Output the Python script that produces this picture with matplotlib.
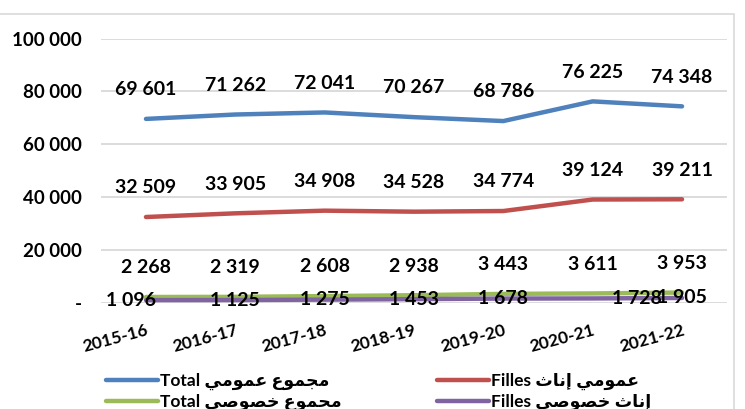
import matplotlib.pyplot as plt
from matplotlib.patches import Rectangle

plt.rcParams['font.family'] = ['Lato', 'DejaVu Sans']
plt.rcParams['font.weight'] = 'bold'

# school years
years = ["2015-16", "2016-17", "2017-18", "2018-19", "2019-20", "2020-21", "2021-22"]

# public schools (total / girls)
public_total = [69601, 71262, 72041, 70267, 68786, 76225, 74348]
public_girls = [32509, 33905, 34908, 34528, 34774, 39124, 39211]

# private schools (total / girls)
private_total = [2268, 2319, 2608, 2938, 3443, 3611, 3953]
private_girls = [1096, 1125, 1275, 1453, 1678, 1728, 1905]

yticks = [0, 20000, 40000, 60000, 80000, 100000]
ytick_labels = ["-", "20 000", "40 000", "60 000", "80 000", "100 000"]

# arabic words, already shaped (presentation forms) and in visual order
w_majmou = "\uFEC9\uFEEE\uFEE4\uFEA0\uFEE3"   # مجموع
w_oumoumi = "\uFEF2\uFEE3\uFEEE\uFEE4\uFECB"  # عمومي
w_inath = "\uFE99\uFE8E\uFEE7\uFE87"          # إناث
w_khousousi = "\uFEF2\uFEBB\uFEEE\uFEBC\uFEA7"  # خصوصي

lbl_pub_total = "Total " + w_oumoumi + " " + w_majmou
lbl_pub_girls = "Filles " + w_inath + " " + w_oumoumi
lbl_priv_total = "Total " + w_khousousi + " " + w_majmou
lbl_priv_girls = "Filles " + w_khousousi + " " + w_inath

blue = "#4f81bd"
red = "#c0504d"
green = "#9bbb59"
purple = "#8064a2"

W, H = 745, 409
fig = plt.figure(figsize=(W / 100, H / 100), dpi=100)
ax = fig.add_axes([101.3 / W, 1 - 303 / H, (726.7 - 101.3) / W, (303 - 38.5) / H])

# chart border
fig.patches.append(Rectangle((-0.01, -0.01), 734 / W + 0.01, 1 - 14 / H + 0.01,
                             transform=fig.transFigure, fill=False,
                             edgecolor="#d9d9d9", lw=1.2))

x = list(range(len(years)))
l1, = ax.plot(x, public_total, color=blue, lw=3.2, solid_capstyle="round")
l2, = ax.plot(x, public_girls, color=red, lw=3.2, solid_capstyle="round")
l3, = ax.plot(x, private_total, color=green, lw=3.2, solid_capstyle="round")
l4, = ax.plot(x, private_girls, color=purple, lw=3.2, solid_capstyle="round")


def fmt(v):
    return f"{v:,}".replace(",", " ")


for series in (public_total, public_girls, private_total):
    for i, v in enumerate(series):
        ax.annotate(fmt(v), (i, v), xytext=(0, 21), textcoords="offset points",
                    ha="center", va="center", fontsize=14, fontweight="bold")

# girls in private schools: labels sit on the line
nudge = {0: -11, 5: 32}
for i, v in enumerate(private_girls):
    ax.annotate(fmt(v), (i, v), xytext=(nudge.get(i, 0), 0), textcoords="offset points",
                ha="center", va="center", fontsize=14, fontweight="bold")

ax.set_xlim(-0.5, len(years) - 0.5)
ax.set_ylim(0, 100000)
ax.set_yticks(yticks)
ax.set_yticklabels(ytick_labels, fontsize=13.5, fontweight="bold")
ax.set_xticks(x)
ax.set_xticklabels(years, fontsize=12.5, fontweight="bold", rotation=15,
                   ha="right", va="top", rotation_mode="anchor")
ax.tick_params(axis="both", length=0)
ax.tick_params(axis="y", pad=14)
ax.tick_params(axis="x", pad=14)
for s in ax.spines.values():
    s.set_visible(False)
ax.grid(axis="y", color="#d9d9d9", lw=1.3)
ax.set_axisbelow(True)

leg_kw = dict(loc="upper left", frameon=False, fontsize=12.5, handlelength=3.0,
              handletextpad=0.1, labelspacing=0.2, borderpad=0, borderaxespad=0)
leg1 = fig.legend([l1, l3], [lbl_pub_total, lbl_priv_total],
                  bbox_to_anchor=(106 / W, 1 - 373 / H), **leg_kw)
leg2 = fig.legend([l2, l4], [lbl_pub_girls, lbl_priv_girls],
                  bbox_to_anchor=(437 / W, 1 - 373 / H), **leg_kw)
for leg in (leg1, leg2):
    for t in leg.get_texts():
        t.set_fontweight("bold")

fig.savefig("out.png", dpi=100, facecolor="white")
